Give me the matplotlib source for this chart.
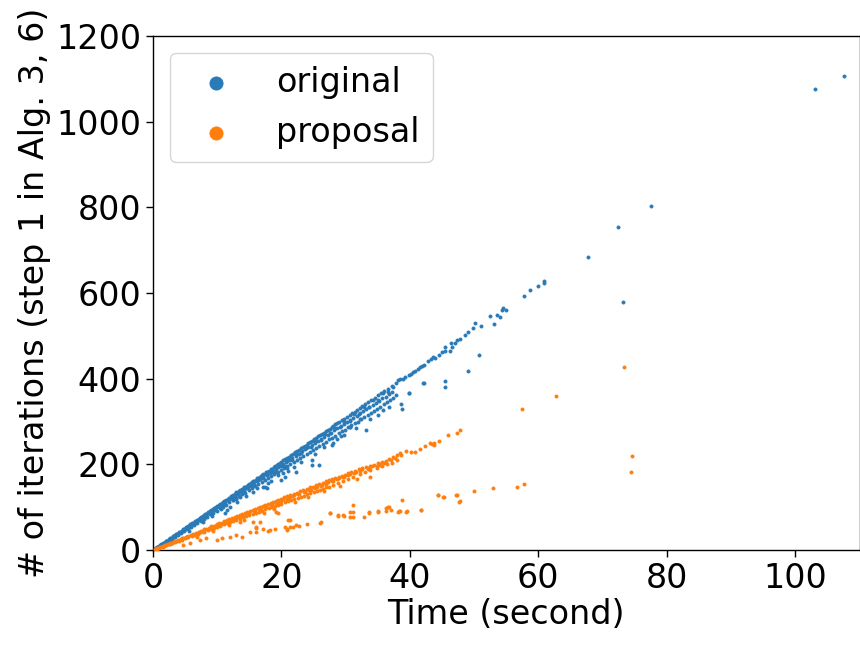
import matplotlib
matplotlib.use("Agg")
import matplotlib.pyplot as plt

# ---- iterations vs. elapsed time, original algorithm ----
orig_x = [
    # dense band, upper edge
    0.2, 0.4, 0.5, 0.7, 0.9, 1.0, 1.2, 1.3, 1.5, 1.6, 1.8, 2.0, 2.1, 2.3, 2.5, 2.6, 2.8, 3.0, 3.1, 3.3,
    3.5, 3.6, 3.8, 4.0, 4.1, 4.3, 4.5, 4.6, 4.8, 5.0, 5.1, 5.3, 5.5, 5.6, 5.8, 6.0, 6.1, 6.3, 6.5, 6.6,
    6.8, 7.0, 7.1, 7.3, 7.5, 7.6, 7.8, 8.0, 8.1, 8.3, 8.5, 8.6, 8.8, 9.0, 9.1, 9.3, 9.5, 9.6, 9.8, 10.0,
    10.2, 10.4, 10.5, 10.7, 10.9, 11.0, 11.2, 11.4, 11.6, 11.8, 12.0, 12.1, 12.3, 12.5, 12.7, 12.9, 13.0,
    13.2, 13.4, 13.6, 13.8, 14.0, 14.2, 14.4, 14.6, 14.8, 15.0, 15.2, 15.4, 15.6, 15.8, 16.0, 16.2, 16.4,
    16.6, 16.8, 17.0, 17.2, 17.4, 17.6, 17.8, 18.0, 18.3, 18.5, 18.8, 19.0, 19.3, 19.5, 19.8, 20.0, 20.3,
    20.6, 20.9, 21.2, 21.5, 21.8, 22.1, 22.4, 22.7, 23.0, 23.3, 23.6, 23.9, 24.2, 24.5, 24.8, 25.1, 25.4,
    25.7, 26.0, 26.3, 26.6, 26.9, 27.2, 27.5, 27.8, 28.1, 28.4, 28.7, 29.0, 29.4, 29.8, 30.2, 30.6, 31.0,
    31.4, 31.8, 32.2, 32.6, 33.0, 33.5, 34.0, 34.5, 35.0, 35.5, 36.0, 36.6, 37.2, 37.8, 38.1,
    # dense band, lower edge
    0.3, 0.8, 1.4, 1.9, 2.4, 2.9, 3.4, 3.9, 4.4, 4.9, 5.4, 5.9, 6.4, 6.9, 7.4, 7.9, 8.4, 8.9, 9.4, 9.9,
    10.4, 10.9, 11.4, 11.9, 12.4, 12.9, 13.4, 13.9, 14.4, 14.9, 15.4, 15.9, 16.4, 16.9, 17.4, 17.9, 18.4,
    18.9, 19.4, 19.9, 20.4, 20.9, 21.4, 21.9, 22.4, 22.9, 23.4, 23.9, 24.4, 24.9, 25.4, 25.9, 26.4, 26.9,
    27.4, 27.9, 28.4, 28.9, 29.4, 29.9, 30.4, 30.9, 31.4, 31.9, 32.4, 32.9, 33.4, 33.9, 34.4, 34.9, 35.4,
    35.9, 36.4, 36.9, 37.4, 37.9,
    # dense band, middle
    0.6, 1.1, 1.7, 2.2, 2.7, 3.2, 3.7, 4.2, 4.7, 5.2, 5.7, 6.2, 6.7, 7.2, 7.7, 8.2, 8.7, 9.2, 9.7, 10.2,
    10.7, 11.2, 11.7, 12.2, 12.7, 13.2, 13.7, 14.2, 14.7, 15.2, 15.7, 16.2, 16.7, 17.2, 17.7, 18.2, 18.7,
    19.2, 19.7, 20.2, 20.7, 21.2, 21.7, 22.2, 22.7, 23.2, 23.7, 24.2, 24.7, 25.2, 25.7, 26.2, 26.7, 27.2,
    27.7, 28.2, 28.7, 29.2, 29.7, 30.2, 30.7, 31.2, 31.7, 32.2, 32.7, 33.2, 33.7, 34.2, 34.7, 35.2, 35.7,
    36.2, 36.7, 37.2,
    # dense band, scattered inside
    0.5, 1.3, 2.0, 2.8, 3.5, 4.4, 5.0, 5.8, 6.5, 7.3, 8.1, 8.8, 9.6, 10.3, 11.1, 11.9, 12.6, 13.3, 14.1,
    14.8, 15.6, 16.3, 17.1, 17.8, 18.6, 19.4, 20.1, 20.8, 21.6, 22.3, 23.1, 23.8, 24.6, 25.3, 26.1, 26.8,
    27.6, 28.3, 29.1, 29.8, 30.6, 31.3, 32.1, 32.8, 33.6, 34.3, 35.1, 35.8, 36.6, 37.4,
    # dense band, lower fringe
    3.0, 5.6, 7.8, 9.2, 10.6, 14.5, 15.5, 16.2, 18.4, 21.0, 23.0, 25.2, 26.6, 28.6, 29.8, 31.6, 33.8,
    35.0, 36.8,
    # sparse upper part
    38.4, 38.9, 39.3, 39.8, 40.2, 40.5, 40.8, 41.2, 41.5, 41.9, 42.2, 42.8, 43.3, 43.6, 43.9, 44.5, 45.0,
    45.5, 45.5, 46.2, 46.4, 46.6, 47.0, 47.4, 47.8, 48.6, 49.1, 49.8, 50.2, 51.1, 52.4, 53.1, 53.5, 54.1,
    54.3, 54.5, 55.0, 57.7, 58.7, 60.0, 60.8, 60.9, 67.7, 72.4, 77.6, 103.1, 107.6,
    # slower runs below the band
    11.2, 11.5, 12.0, 12.5, 12.9, 13.1, 13.5, 17.1, 17.4, 17.7, 17.9, 19.2, 19.5, 20.0, 20.5, 20.2, 20.9,
    20.5, 22.0, 22.3, 24.7, 24.8, 25.8, 27.9, 28.0, 29.3, 30.6, 30.7, 32.2, 33.2, 35.8, 38.6, 38.8, 39.9,
    39.9, 42.0, 42.2, 45.5, 45.5, 49.1, 50.7, 73.1,
]
orig_y = [
    2, 4, 3, 7, 8, 10, 11, 13, 14, 17, 17, 20, 21, 22, 26, 25, 28, 29, 32, 33,
    34, 37, 38, 40, 42, 43, 45, 48, 48, 50, 53, 54, 55, 57, 60, 60, 63, 64, 65, 68,
    69, 71, 73, 74, 76, 78, 79, 82, 83, 84, 86, 89, 90, 92, 94, 95, 97, 99, 100, 102,
    104, 106, 108, 109, 111, 114, 115, 116, 119, 121, 122, 125, 126, 128, 130, 132, 135,
    136, 137, 140, 142, 143, 146, 148, 149, 152, 154, 156, 158, 160, 162, 164, 167, 168,
    171, 172, 175, 177, 178, 181, 183, 185, 188, 190, 193, 196, 198, 201, 204, 206, 209,
    212, 215, 218, 221, 224, 228, 230, 234, 237, 240, 243, 246, 249, 252, 255, 259, 261,
    265, 268, 271, 274, 277, 280, 283, 287, 289, 293, 296, 299, 303, 307, 311, 316, 320,
    323, 328, 332, 336, 340, 345, 350, 356, 361, 366, 371, 377, 384, 390, 396,
    2, 6, 12, 17, 21, 26, 31, 35, 40, 45, 50, 54, 59, 64, 68, 73, 78, 83, 87, 92,
    97, 101, 106, 111, 116, 120, 125, 130, 134, 139, 144, 149, 153, 158, 163, 167, 172,
    177, 182, 186, 191, 196, 201, 205, 210, 215, 220, 224, 229, 234, 239, 243, 248, 253,
    258, 262, 267, 272, 277, 281, 286, 291, 296, 300, 305, 310, 315, 320, 325, 330, 334,
    340, 345, 350, 356, 361,
    6, 11, 17, 22, 27, 32, 37, 42, 46, 52, 56, 61, 66, 71, 76, 81, 86, 91, 96, 101,
    106, 111, 116, 121, 126, 131, 136, 140, 145, 150, 155, 160, 165, 170, 175, 180, 185,
    190, 195, 200, 205, 210, 215, 220, 225, 230, 235, 240, 244, 250, 254, 259, 264, 269,
    274, 279, 284, 289, 294, 299, 304, 309, 314, 319, 324, 329, 334, 339, 344, 349, 354,
    358, 364, 369,
    4, 12, 19, 26, 35, 43, 48, 58, 63, 72, 78, 88, 94, 103, 108, 119, 122, 133, 138,
    148, 151, 163, 167, 176, 181, 193, 195, 208, 211, 224, 226, 239, 241, 254, 257, 270,
    272, 285, 288, 300, 301, 318, 318, 334, 335, 350, 351, 366, 368, 381,
    22, 45, 66, 80, 95, 125, 135, 144, 160, 185, 205, 225, 240, 258, 268, 285, 305,
    315, 333,
    399, 400, 404, 408, 412, 416, 419, 423, 427, 430, 432, 442, 445, 451, 448, 456, 462,
    465, 473, 465, 483, 475, 484, 490, 492, 502, 509, 519, 529, 522, 546, 528, 549, 543,
    560, 566, 560, 593, 606, 617, 627, 624, 684, 755, 802, 1076, 1106,
    87, 93, 101, 117, 121, 113, 124, 148, 148, 144, 156, 183, 175, 163, 195, 179, 191,
    170, 194, 183, 209, 198, 198, 244, 249, 266, 288, 286, 307, 279, 327, 342, 330, 366,
    367, 391, 391, 381, 395, 418, 455, 580,
]

# ---- iterations vs. elapsed time, proposed algorithm ----
prop_x = [
    # main band, upper edge
    0.3, 0.7, 1.1, 1.5, 1.9, 2.3, 2.7, 3.1, 3.5, 3.9, 4.3, 4.7, 5.1, 5.5, 5.9, 6.3, 6.7, 7.1, 7.5, 7.9,
    8.3, 8.7, 9.1, 9.5, 9.9, 10.3, 10.7, 11.1, 11.5, 11.9, 12.3, 12.7, 13.1, 13.5, 13.9, 14.3, 14.7, 15.1,
    15.5, 15.9, 16.3, 16.7, 17.1, 17.5, 17.9, 18.3, 18.7, 19.1, 19.5, 19.9, 20.4, 20.9, 21.4, 21.9, 22.4,
    22.9, 23.4, 23.9, 24.4, 24.9, 25.4, 25.9, 26.4, 26.9, 27.4, 27.9, 28.4, 28.9, 29.4, 29.9, 30.4, 30.9,
    31.4, 32.0, 32.6, 33.2, 33.8, 34.4, 35.0, 35.6, 36.2, 36.8, 37.4, 38.0, 38.4, 38.6, 39.4, 40.1, 40.8,
    41.5, 42.3, 43.2, 43.4, 43.8, 43.8, 44.6, 45.9, 47.3, 47.8,
    # main band, lower edge
    0.5, 1.0, 1.5, 2.0, 2.5, 3.0, 3.5, 4.0, 4.5, 5.0, 5.5, 6.0, 6.5, 7.0, 7.5, 8.0, 8.5, 9.0, 9.5, 10.0,
    10.5, 11.0, 11.5, 12.0, 12.5, 13.0, 13.5, 14.0, 14.5, 15.0, 15.5, 16.0, 16.5, 17.0, 17.5, 18.0, 18.5,
    19.0, 19.5, 20.0, 20.5, 21.0, 21.5, 22.0, 22.5, 23.0, 23.5, 24.0, 24.5, 25.0, 25.5, 26.0, 26.5, 27.0,
    27.4, 28.0, 28.8, 29.6, 30.4, 31.2, 32.2, 33.0, 33.8, 34.8, 35.6, 36.4, 37.2, 38.0,
    # main band, middle
    0.8, 1.7, 2.6, 3.4, 4.3, 5.2, 6.1, 7.0, 7.8, 8.7, 9.6, 10.4, 11.3, 12.2, 13.0, 13.9, 14.8, 15.7,
    16.5, 17.4, 18.3, 19.1, 20.0, 20.9, 21.7, 22.6, 23.5, 24.3, 25.2, 26.1, 27.0, 27.8, 28.7, 29.6,
    30.4, 31.3, 32.2, 33.6, 34.8, 35.3,
    # main band, scattered inside
    0.6, 1.3, 2.1, 2.9, 3.7, 4.5, 5.3, 6.2, 7.2, 8.0, 8.9, 9.8, 10.6, 11.5, 12.4, 13.3, 14.1, 15.0,
    15.9, 16.8, 17.6, 18.5, 19.4, 20.2, 21.1, 22.0, 22.8, 23.7, 24.6, 25.5, 26.3, 27.2, 28.1, 29.0,
    29.8, 30.7, 31.6, 32.6, 33.4, 34.1, 35.3, 36.0, 37.0, 37.7,
    # main band, lower fringe
    6.8, 9.3, 11.8, 13.6, 14.2, 17.3, 18.9, 22.1, 24.2, 26.7, 29.1, 31.8,
    # between the bands
    15.6, 16.1, 16.6, 19.2, 19.5, 21.0, 21.3, 33.8,
    # lower band
    4.7, 5.7, 7.3, 8.3, 9.9, 10.7, 12.0, 13.0, 13.8, 15.1, 16.1, 16.1, 17.1, 17.9, 18.2, 19.0, 20.5,
    20.8, 20.8, 21.3, 21.8, 22.3, 22.8, 23.9, 26.0, 26.2, 27.5, 27.6, 28.8, 28.8, 29.6, 29.7, 30.6,
    30.6, 31.1, 31.1, 31.2, 32.9, 33.6, 33.6, 35.0, 35.0, 36.3, 36.3, 36.6, 36.8, 37.1, 38.1, 38.3,
    38.4, 38.8, 39.4, 39.5, 41.7, 41.8, 44.3, 44.4, 45.1, 45.3, 47.2, 47.3, 47.7, 47.8, 50.0, 52.9,
    56.7, 57.7, 74.4, 74.6,
    # sparse long runs
    57.4, 62.8, 73.3,
]
prop_y = [
    2, 4, 7, 9, 12, 14, 16, 19, 21, 24, 26, 28, 31, 33, 36, 38, 40, 43, 45, 48,
    50, 52, 55, 57, 60, 62, 64, 67, 69, 72, 74, 76, 79, 81, 84, 86, 88, 91,
    93, 96, 98, 100, 103, 105, 108, 110, 112, 115, 117, 120, 123, 125, 128, 131, 134,
    137, 140, 143, 146, 148, 151, 155, 157, 160, 163, 165, 168, 171, 173, 176, 179, 181,
    184, 189, 191, 193, 197, 199, 202, 205, 208, 212, 216, 221, 226, 222, 232, 229, 229,
    236, 243, 249, 248, 250, 245, 255, 269, 273, 279,
    3, 5, 8, 11, 13, 16, 19, 22, 24, 27, 30, 32, 35, 38, 41, 43, 46, 49, 52, 54,
    57, 60, 62, 65, 68, 70, 73, 76, 79, 81, 84, 87, 89, 92, 95, 97, 100,
    103, 106, 108, 111, 114, 116, 119, 122, 124, 127, 130, 133, 135, 138, 141, 143, 146,
    148, 152, 157, 162, 166, 170, 177, 182, 186, 192, 196, 200, 204, 210,
    5, 10, 15, 20, 25, 30, 35, 40, 45, 50, 55, 60, 65, 70, 75, 80, 85, 90,
    95, 100, 105, 110, 115, 120, 125, 130, 135, 140, 145, 150, 155, 160, 165, 170,
    175, 180, 185, 191, 196, 198,
    3, 8, 12, 17, 21, 27, 30, 36, 41, 47, 51, 57, 60, 67, 71, 77, 80, 87,
    90, 98, 100, 107, 111, 118, 121, 128, 131, 138, 141, 148, 151, 158, 161, 168,
    171, 178, 182, 188, 190, 195, 201, 204, 210, 215,
    30, 45, 58, 66, 70, 86, 95, 112, 124, 138, 150, 165,
    66, 54, 66, 89, 87, 70, 70, 171,
    12, 16, 23, 27, 23, 27, 31, 35, 31, 43, 43, 51, 48, 45, 47, 48, 54,
    50, 47, 54, 54, 58, 56, 61, 62, 66, 86, 87, 79, 81, 82, 79, 78,
    89, 78, 88, 105, 78, 86, 88, 89, 92, 92, 97, 101, 101, 93, 89, 92,
    90, 117, 89, 90, 94, 93, 128, 128, 124, 124, 128, 128, 113, 114, 138, 145,
    148, 155, 181, 219,
    330, 360, 428,
]

series_labels = ["original", "proposal"]
x_ticks = [0, 20, 40, 60, 80, 100]
y_ticks = [0, 200, 400, 600, 800, 1000, 1200]

plt.rcParams["font.family"] = ["DejaVu Sans"]
plt.rcParams["font.size"] = 24

fig = plt.figure(figsize=(8.6, 6.45), dpi=100)
ax = fig.add_axes([153 / 860, 1 - 550 / 645, (859.5 - 153) / 860, (550 - 36) / 645])

ax.scatter(orig_x, orig_y, s=5, color="#2a7ab8", linewidths=0.6, label=series_labels[0], zorder=2)
ax.scatter(prop_x, prop_y, s=5, color="#ff7f0e", linewidths=0.6, label=series_labels[1], zorder=3)

ax.set_xlim(0, 110)
ax.set_ylim(0, 1200)
ax.set_xticks(x_ticks)
ax.set_yticks(y_ticks)
ax.tick_params(labelsize=24, length=5, width=1)
for sp in ax.spines.values():
    sp.set_linewidth(1.0)

ax.set_xlabel("Time (second)", fontsize=24, labelpad=2)
ax.set_ylabel("# of iterations (step 1 in Alg. 3, 6)", fontsize=24)

leg = ax.legend(loc="upper left", fontsize=24)
for h in leg.legend_handles:
    h.set_sizes([90])

fig.savefig("out.png", dpi=100)
